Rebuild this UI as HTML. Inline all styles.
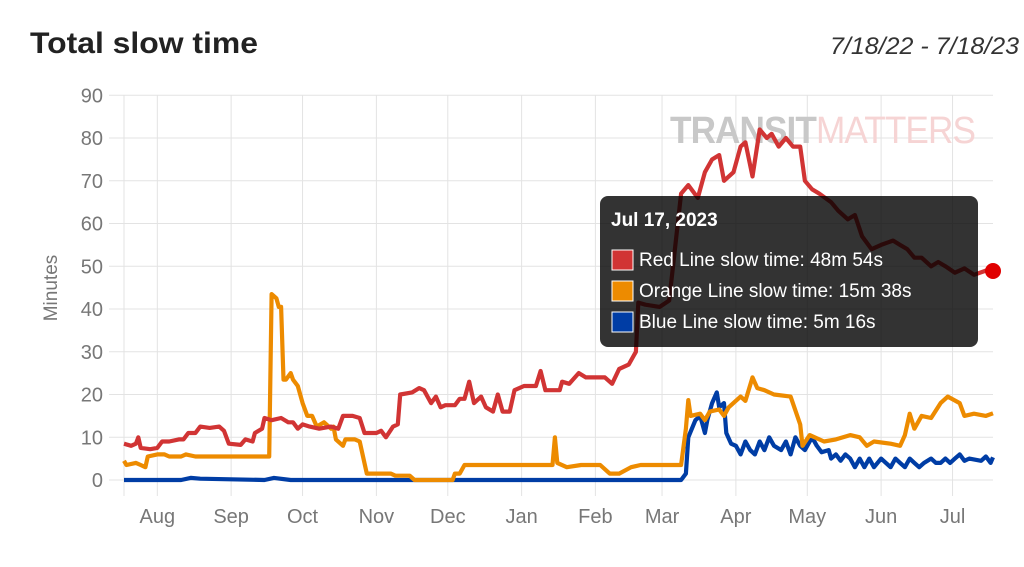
<!DOCTYPE html>
<html><head><meta charset="utf-8"><style>
body{margin:0;background:#fff;width:1024px;height:562px;overflow:hidden;font-family:"Liberation Sans",sans-serif}
</style></head><body>
<svg id="chart" width="1024" height="562" xmlns="http://www.w3.org/2000/svg" font-family="Liberation Sans, sans-serif">
<text x="30" y="53" font-size="30" font-weight="bold" fill="#222" textLength="228" lengthAdjust="spacingAndGlyphs">Total slow time</text>
<text x="1019" y="54" font-size="24" font-style="italic" fill="#333" text-anchor="end" textLength="189" lengthAdjust="spacingAndGlyphs">7/18/22 - 7/18/23</text>
<g id="grid"></g>
<g id="axes"></g>
<g text-anchor="start">
<text x="670" y="143" font-size="38" font-weight="bold" fill="#c8c8c8" letter-spacing="-1" textLength="305" lengthAdjust="spacingAndGlyphs">TRANSIT<tspan font-weight="normal" fill="#f6d4d4">MATTERS</tspan></text>
</g>
<text transform="translate(57,288) rotate(-90)" font-size="19" fill="#777" text-anchor="middle">Minutes</text>
<g id="series"></g>
<g id="tooltip">
<rect x="600" y="196" width="378" height="151" rx="8" fill="rgba(0,0,0,0.8)"/>
<text x="611" y="226" font-size="19" font-weight="bold" fill="#fff">Jul 17, 2023</text>
<rect x="612" y="250" width="21" height="20" fill="#d13434" stroke="#fff" stroke-width="1"/>
<text x="639" y="266" font-size="19" fill="#fff">Red Line slow time: 48m 54s</text>
<rect x="612" y="281" width="21" height="20" fill="#ed8b00" stroke="#fff" stroke-width="1"/>
<text x="639" y="297" font-size="19" fill="#fff">Orange Line slow time: 15m 38s</text>
<rect x="612" y="312" width="21" height="20" fill="#003da5" stroke="#fff" stroke-width="1"/>
<text x="639" y="328" font-size="19" fill="#fff">Blue Line slow time: 5m 16s</text>
</g>
</svg>
<script>
// day offsets from 2022-07-18
const monthLabels=["Aug","Sep","Oct","Nov","Dec","Jan","Feb","Mar","Apr","May","Jun","Jul"];
const monthDays=[14,45,75,106,136,167,198,226,257,287,318,348];
const yTicks=[0,10,20,30,40,50,60,70,80,90];
const redDays=[0,3,5,6,7,11,14,16,19,23,25,27,30,32,36,40,42,44,49,51,54,55,58,59,62,66,69,71,73,75,78,82,87,90,92,96,99,101,106,108,110,113,115,116,121,124,126,129,131,133,135,139,141,143,145,147,150,152,155,157,159,162,164,168,173,175,177,181,183,184,187,191,194,198,202,205,208,212,215,216,219,225,229,234,237,241,244,247,250,252,256,259,261,264,267,270,272,275,278,281,284,286,289,292,297,300,304,307,310,314,318,323,326,329,332,335,339,342,345,349,353,357,362,365];
const redValues=[8.5,8,8.5,10,7.5,7.2,7.5,9,9,9.5,9.5,11,11,12.5,12.2,12.5,11.5,8.5,8.2,9.5,9,11,12,14.5,14,14.5,13.5,13.5,12,13,12.5,12,12.5,12,15,15,14.5,11,11,11.5,10,12.5,13,20,20.5,21.5,21,18,19.5,17,17.5,17.5,19,19,23,18,19.5,17,16,20,16,16,21,22,22,25.5,21,21,21,23,22.5,25,24,24,24,22.5,26,27,30,41.5,41,40.5,42,67,69,66,72,75,76,70,72,78,79,71,82,80,81,78,80,78,78,70,68,67,65,63,61,62,57,54,55,56,55,54,52,52,50,51,50,48.5,49.5,48,49,48.9];
const orangeDays=[0,1,5,7,9,10,14,17,19,24,26,30,32,61,62,64,65,66,67,68,70,71,73,75,77,79,81,84,87,88,89,92,93,97,99,102,112,114,120,122,138,139,141,143,166,175,180,181,182,186,192,198,200,204,208,213,217,225,234,236,237,238,242,244,246,250,252,254,259,261,264,266,269,273,280,284,285,288,294,299,305,309,312,315,322,326,328,330,332,335,339,343,346,351,353,357,362,365];
const orangeValues=[4.5,3.5,4,3.5,3,5.5,6,6,5.5,5.5,6,5.5,5.5,5.5,43.5,42.5,40.5,40.5,23.5,23.5,25,23.5,22,18,15,15,12.5,13.5,12,12.5,9.5,8,9.5,9.5,9,1.5,1.5,1,1,0,0,1.5,1.5,3.5,3.5,3.5,3.5,10,4,3,3.5,3.5,3.5,1.5,1.5,3,3.5,3.5,3.5,12,18.7,15,15.5,14,16,16.5,15,17,19.5,18.5,24,21.5,21,20,19.5,13,8,10.5,9,9.5,10.5,10,8,9,8.5,8,10.5,15.5,12,15,14.5,18,19.5,18,15,15.5,15,15.6];
const blueDays=[0,24,28,32,59,63,70,234,236,237,240,242,244,245,247,249,250,252,253,255,257,259,261,263,265,267,269,271,273,276,278,280,282,284,286,288,289,291,293,296,297,299,301,303,305,307,309,311,313,315,318,320,322,324,326,328,330,332,334,336,339,341,343,345,347,349,351,353,355,360,362,364,365];
const blueValues=[0,0,0.5,0.3,0,0.5,0,0,1.5,10,14,15,11,14,18,20.5,17,18,11,8.5,8,6,9,7,6,9,7,10,8,7,9,6,10,8,7,9,10,8,6.5,7,5,6,4.5,6,5,3,5,3,5,3,5,4,3,5,4,3,5,4,3,4,5,4,4,5,4,5,6,4.5,5,4.5,5.5,4,5.3];

const X0=124,X1=993,Y0=480,Y90=95.3;
const xs=d=>X0+(X1-X0)*d/365;
const ys=v=>Y0-(Y0-Y90)*v/90;
const NS="http://www.w3.org/2000/svg";
function mk(tag,attrs,parent){const e=document.createElementNS(NS,tag);for(const k in attrs)e.setAttribute(k,attrs[k]);parent.appendChild(e);return e;}
const grid=document.getElementById('grid'),axes=document.getElementById('axes'),series=document.getElementById('series');
yTicks.forEach(t=>{
  const l=mk('line',{x1:109,x2:X1,y1:ys(t),y2:ys(t),stroke:'#e3e3e3','stroke-width':1},grid);
  
  
  const tx=mk('text',{x:103,y:ys(t)+7,'font-size':20,fill:'#777','text-anchor':'end'},axes);
  tx.textContent=t;
  
  
});
const l0=mk('line',{x1:X0,x2:X0,y1:Y90,y2:496,stroke:'#e3e3e3','stroke-width':1},grid);


monthDays.forEach((d,i)=>{
  const l=mk('line',{x1:xs(d),x2:xs(d),y1:Y90,y2:496,stroke:'#e3e3e3','stroke-width':1},grid);
  
  
  const tx=mk('text',{x:xs(d),y:523,'font-size':20,fill:'#777','text-anchor':'middle'},axes);
  tx.textContent=monthLabels[i];
  
  
});
function line(days,vals,color,name){
  const p=mk('polyline',{points:days.map((d,i)=>xs(d).toFixed(1)+','+ys(vals[i]).toFixed(1)).join(' '),fill:'none',stroke:color,'stroke-width':4.2,'stroke-linejoin':'round'},series);
  
  
}
line(blueDays,blueValues,'#003da5','blue-line-series');
line(orangeDays,orangeValues,'#ed8b00','orange-line-series');
line(redDays,redValues,'#d13434','red-line-series');
const pt=mk('circle',{cx:xs(365),cy:ys(redValues[redValues.length-1]),r:8,fill:'#e00000'},series);


</script>
</body></html>
